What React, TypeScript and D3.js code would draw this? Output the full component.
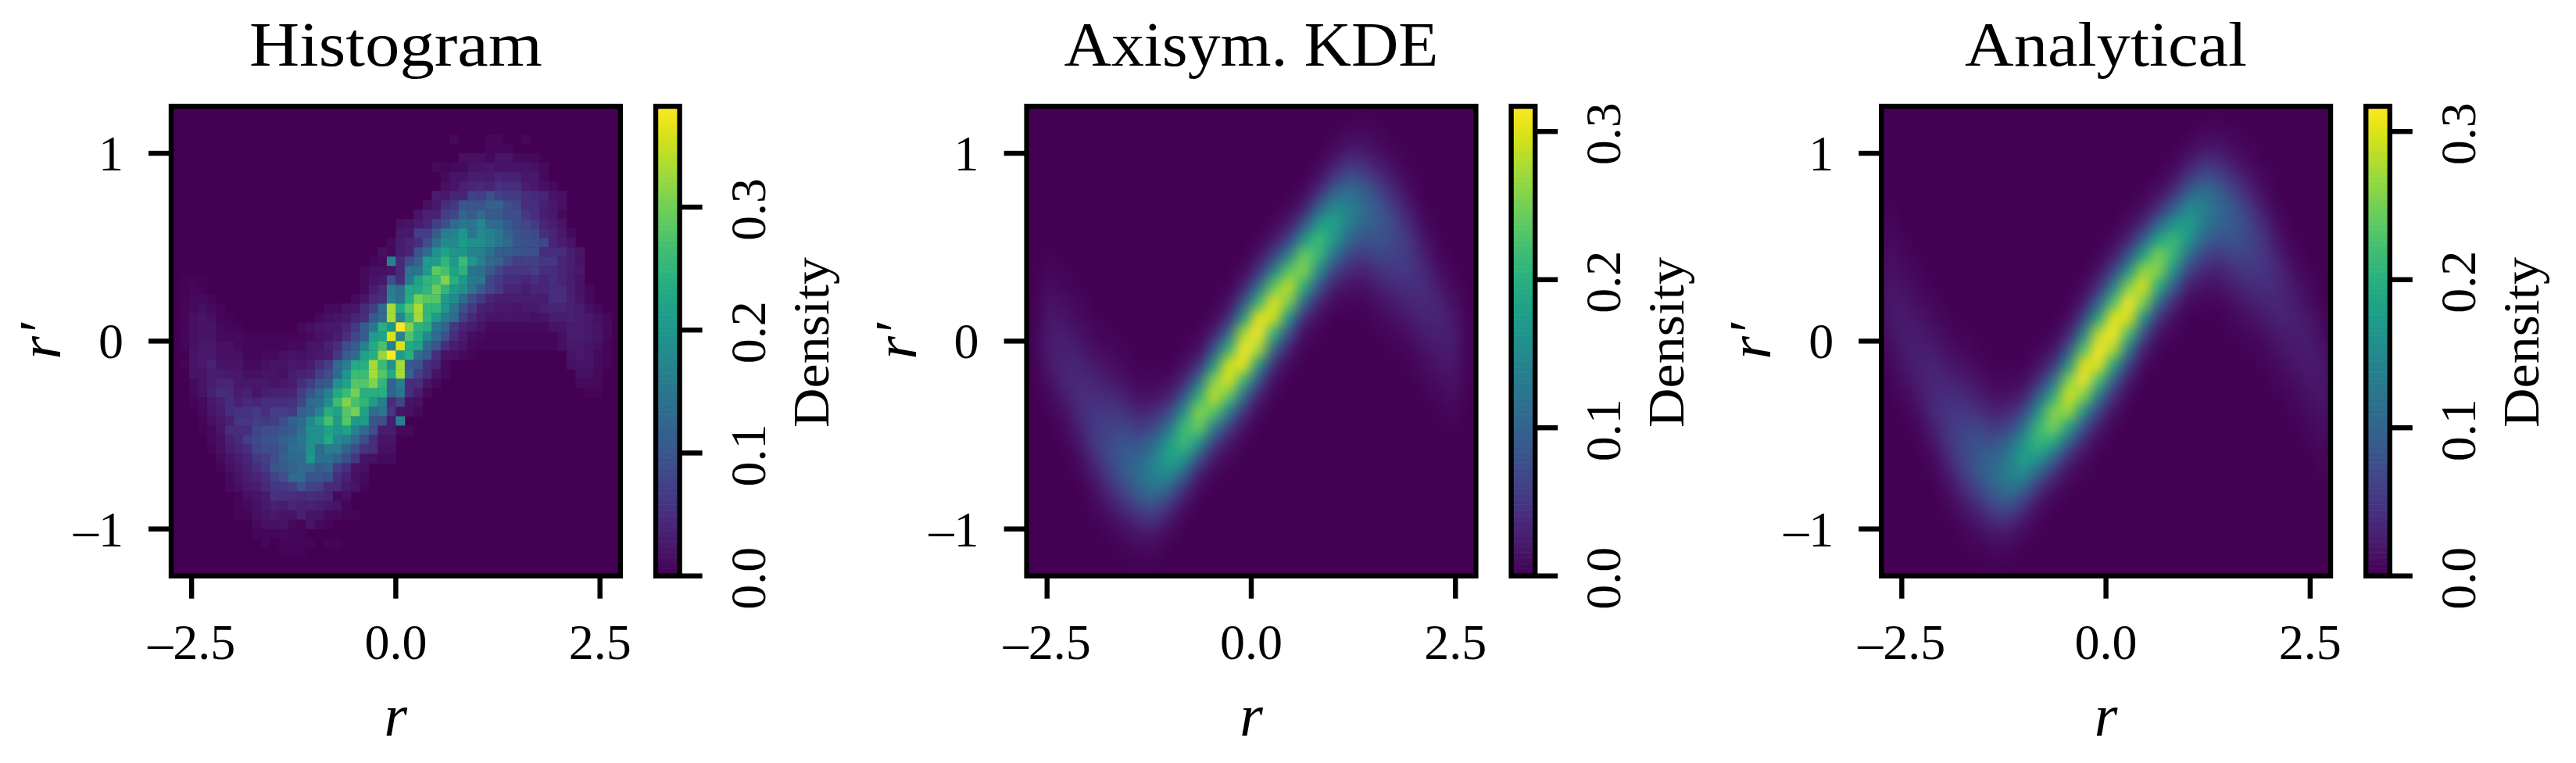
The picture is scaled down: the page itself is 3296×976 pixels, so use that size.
import React from "react";
import * as d3 from "d3";

// axis ticks and limits
const rTicks = [-2.5, 0, 2.5];
const rLabels = ["–2.5", "0.0", "2.5"];
const rPrimeTicks = [-1, 0, 1];
const rPrimeLabels = ["–1", "0", "1"];
const rDomain = [-2.75, 2.75];
const rPrimeDomain = [-1.25, 1.25];
const densityTicks = [0, 0.1, 0.2, 0.3];
const densityLabels = ["0.0", "0.1", "0.2", "0.3"];
const histogramMax = 0.382;
const kdeMax = 0.317;
const analyticalMax = 0.317;

// Histogram: 50x50 bins in units of 0.001
// each entry: row from the top, first column, then the bin values
const histogramBins = [
  [3, 31, 10, 0, 0, 0, 8, 8, 0, 0, 8],
  [4, 35, 8, 8, 8],
  [5, 32, 15, 15, 15, 10, 20, 20, 10, 10, 10],
  [6, 29, 10, 5, 10, 10, 20, 20, 25, 20, 20, 20, 20, 15, 10],
  [7, 30, 10, 20, 20, 30, 30, 30, 40, 35, 35, 25, 25, 10],
  [8, 30, 15, 20, 35, 40, 45, 40, 55, 50, 50, 30, 25, 15, 10],
  [9, 29, 30, 25, 40, 40, 75, 70, 90, 70, 65, 65, 50, 45, 40, 20, 15],
  [10, 28, 15, 25, 50, 60, 100, 100, 100, 120, 120, 90, 80, 50, 50, 35, 25, 15],
  [11, 27, 20, 35, 35, 70, 80, 125, 110, 130, 105, 105, 90, 90, 60, 50, 30, 25, 10],
  [12, 25, 15, 20, 30, 40, 70, 90, 130, 150, 150, 180, 130, 130, 110, 90, 80, 65, 40, 30, 20],
  [13, 25, 25, 25, 70, 70, 110, 160, 170, 200, 150, 180, 170, 150, 120, 100, 90, 85, 50, 40, 25, 10],
  [14, 24, 10, 30, 40, 50, 90, 140, 180, 180, 210, 190, 190, 170, 150, 130, 100, 95, 90, 80, 40, 30, 20],
  [15, 23, 15, 10, 30, 40, 100, 130, 190, 220, 200, 200, 170, 170, 140, 110, 110, 100, 95, 90, 50, 50, 50, 30, 20],
  [16, 22, 5, 10, 170, 45, 90, 120, 210, 210, 250, 210, 260, 200, 165, 130, 120, 90, 70, 70, 70, 60, 60, 40, 30, 20],
  [17, 21, 10, 15, 15, 20, 45, 145, 145, 205, 285, 270, 220, 245, 145, 140, 110, 80, 60, 60, 60, 70, 50, 50, 40, 30, 25],
  [18, 1, 3, 5, 3],
  [18, 21, 10, 20, 25, 90, 50, 155, 220, 250, 260, 310, 240, 200, 155, 150, 80, 65, 50, 50, 40, 50, 40, 50, 40, 30, 20],
  [19, 1, 4, 6, 4],
  [19, 21, 10, 30, 45, 160, 140, 230, 230, 250, 295, 250, 205, 190, 145, 105, 80, 60, 40, 40, 30, 40, 40, 50, 50, 30, 20, 10],
  [20, 1, 5, 10, 10, 5],
  [20, 20, 10, 20, 45, 50, 170, 145, 235, 300, 280, 280, 210, 185, 130, 90, 65, 40, 30, 30, 30, 30, 30, 30, 50, 50, 35, 20, 10],
  [21, 1, 5, 10, 15, 10, 5],
  [21, 17, 10, 10, 20, 20, 45, 70, 130, 330, 230, 280, 335, 250, 250, 200, 145, 95, 65, 35, 30, 25, 25, 20, 25, 25, 35, 40, 40, 35, 30, 15, 10],
  [22, 1, 5, 15, 20, 15, 5, 3],
  [22, 16, 10, 15, 20, 25, 40, 50, 110, 130, 330, 175, 250, 330, 250, 210, 160, 135, 70, 45, 28, 20, 20, 20, 20, 20, 15, 20, 30, 30, 35, 30, 25, 15, 10],
  [23, 1, 5, 15, 20, 20, 10, 5, 3],
  [23, 14, 10, 15, 20, 25, 25, 40, 60, 110, 150, 240, 200, 380, 310, 245, 235, 150, 120, 60, 40, 30, 20, 10, 10, 10, 10, 10, 10, 10, 20, 20, 30, 30, 25, 20, 10],
  [24, 1, 5, 15, 20, 20, 10, 10, 10, 5, 5, 5, 5, 5, 5],
  [24, 14, 5, 10, 15, 20, 30, 50, 80, 110, 210, 220, 360, 170, 275, 235, 180, 130, 95, 50, 28, 12, 10, 5, 5, 5, 5, 5, 5, 5, 5, 15, 30, 30, 25, 20, 10],
  [25, 1, 5, 15, 25, 25, 15, 15, 10, 5, 5, 5, 5, 5, 10, 10, 20, 20, 35, 50, 90, 110, 170, 230, 270, 160, 360, 230, 220, 130, 100, 50, 30, 20, 10, 5, 5, 5, 5, 5, 5, 5, 5, 5, 15, 25, 25, 20, 15, 5],
  [26, 2, 20, 25, 25, 15, 15, 15, 5, 5, 10, 10, 15, 20, 15, 20, 25, 30, 60, 110, 130, 220, 240, 320, 380, 210, 240, 130, 110, 50, 20, 15, 10, 5],
  [26, 44, 20, 25, 20, 10, 5],
  [27, 1, 5, 20, 25, 35, 20, 20, 20, 10, 10, 15, 20, 20, 25, 20, 30, 50, 70, 130, 160, 230, 240, 330, 260, 190, 330, 110, 100, 50, 40, 10],
  [27, 44, 15, 20, 20, 10, 5],
  [28, 2, 20, 20, 30, 30, 25, 25, 15, 15, 20, 20, 15, 30, 35, 40, 70, 90, 130, 200, 260, 260, 330, 280, 230, 330, 120, 70, 50, 20, 10],
  [28, 45, 15, 15, 10],
  [29, 2, 10, 20, 30, 40, 40, 25, 25, 25, 25, 20, 25, 30, 50, 70, 100, 110, 190, 220, 280, 280, 310, 250, 120, 160, 50, 50, 20, 10],
  [29, 45, 10, 10, 10],
  [30, 2, 10, 20, 35, 50, 45, 30, 35, 20, 30, 35, 35, 40, 70, 100, 130, 170, 230, 260, 300, 240, 240, 240, 120, 150, 50, 30, 10],
  [30, 46, 5, 5],
  [31, 2, 5, 10, 25, 35, 50, 35, 45, 40, 50, 50, 50, 55, 80, 130, 140, 190, 260, 310, 270, 250, 210, 160, 50, 80, 20, 15],
  [32, 3, 10, 20, 30, 50, 55, 55, 65, 50, 70, 70, 65, 120, 130, 170, 240, 220, 280, 300, 220, 130, 150, 60, 20, 15, 10],
  [33, 3, 5, 15, 25, 35, 60, 60, 70, 65, 70, 90, 120, 130, 180, 220, 270, 210, 280, 210, 210, 100, 90, 30, 170],
  [34, 3, 5, 10, 20, 50, 50, 50, 80, 90, 90, 100, 110, 140, 190, 190, 220, 200, 220, 170, 130, 90, 30, 30, 10, 10],
  [35, 4, 10, 15, 35, 45, 70, 85, 100, 100, 120, 130, 150, 190, 190, 230, 180, 160, 130, 90, 50, 20, 20],
  [36, 4, 5, 15, 30, 40, 50, 80, 90, 90, 110, 140, 145, 190, 130, 160, 160, 120, 90, 55, 50, 15, 15],
  [37, 5, 10, 20, 30, 40, 60, 70, 90, 120, 130, 130, 200, 140, 140, 120, 90, 60, 20, 15, 10, 10],
  [38, 5, 5, 15, 25, 35, 50, 65, 100, 110, 120, 130, 130, 110, 120, 70, 50, 20, 15],
  [39, 6, 10, 20, 30, 40, 50, 75, 90, 130, 130, 100, 100, 95, 50, 35, 15, 10],
  [40, 6, 10, 15, 25, 30, 45, 60, 65, 70, 100, 75, 70, 45, 45, 25, 20, 5],
  [41, 7, 5, 15, 20, 25, 55, 50, 50, 45, 50, 45, 40, 10, 15],
  [42, 7, 5, 10, 15, 25, 35, 30, 40, 35, 35, 30, 25, 20, 5],
  [43, 7, 5, 5, 15, 20, 25, 20, 20, 35, 20, 20, 10, 10, 5, 5],
  [44, 9, 10, 15, 15, 20, 10, 5, 20, 10, 5],
  [45, 9, 5, 5, 5, 10, 5, 5],
  [46, 10, 5, 0, 5, 5, 5, 5, 0, 5, 5],
  [47, 12, 3, 3, 3],
];

// KDE and analytical panels: 30 columns x 30 rows, units of 0.001,
// one list per r column: first row from the top, then the values down the column
const kdeColumns = [
  [13, 2, 2, 2, 2],
  [9, 3, 6, 10, 15, 19, 23, 24, 20, 13, 7, 3, 1],
  [10, 3, 6, 11, 17, 23, 28, 32, 31, 22, 14, 7, 3, 1],
  [11, 2, 5, 9, 15, 23, 31, 37, 40, 37, 28, 18, 9, 4, 1],
  [13, 3, 6, 12, 21, 31, 42, 50, 54, 50, 38, 24, 12, 5, 2],
  [14, 3, 7, 13, 23, 37, 51, 63, 70, 69, 55, 36, 19, 9, 3, 1],
  [15, 3, 7, 14, 27, 45, 65, 82, 90, 87, 66, 41, 21, 8, 3],
  [16, 2, 5, 14, 30, 54, 82, 104, 112, 98, 68, 37, 16, 6, 2],
  [16, 2, 6, 15, 36, 67, 106, 135, 142, 119, 78, 40, 16, 5, 1],
  [16, 2, 9, 28, 67, 122, 172, 186, 154, 100, 49, 19, 6],
  [15, 3, 10, 34, 83, 154, 213, 220, 171, 99, 43, 14, 3],
  [14, 3, 12, 43, 111, 200, 261, 245, 164, 80, 27, 7],
  [13, 7, 28, 79, 165, 255, 290, 235, 137, 62, 20, 5],
  [11, 3, 13, 42, 108, 205, 295, 305, 236, 137, 60, 20, 5],
  [10, 8, 29, 79, 170, 275, 335, 308, 210, 112, 46, 15, 3],
  [8, 3, 15, 46, 112, 210, 308, 335, 275, 170, 79, 29, 8],
  [7, 5, 20, 60, 137, 236, 305, 295, 205, 108, 42, 13, 3],
  [6, 5, 20, 62, 137, 235, 290, 255, 165, 79, 28, 7],
  [5, 7, 27, 80, 164, 245, 261, 200, 111, 43, 12, 3],
  [3, 3, 14, 43, 99, 171, 220, 213, 154, 83, 34, 10, 3],
  [2, 6, 19, 49, 100, 154, 186, 172, 122, 67, 28, 9, 2],
  [0, 1, 5, 16, 40, 78, 119, 142, 135, 106, 67, 36, 15, 6, 2],
  [0, 2, 6, 16, 37, 68, 98, 112, 104, 82, 54, 30, 14, 5, 2],
  [1, 3, 8, 21, 41, 66, 87, 90, 82, 65, 45, 27, 14, 7, 3],
  [1, 1, 3, 9, 19, 36, 55, 69, 70, 63, 51, 37, 23, 13, 7, 3],
  [3, 2, 5, 12, 24, 38, 50, 54, 50, 42, 31, 21, 12, 6, 3],
  [5, 1, 4, 9, 18, 28, 37, 40, 37, 31, 23, 15, 9, 5, 2],
  [7, 1, 3, 7, 14, 22, 31, 32, 28, 23, 17, 11, 6, 3],
  [9, 1, 3, 7, 13, 20, 24, 23, 19, 15, 10, 6, 3],
  [14, 2, 2, 2, 2],
];

const analyticalColumns = [
  [5, 1, 3, 5, 8, 12, 16, 19, 20, 19, 15, 9, 5, 2],
  [7, 1, 3, 5, 9, 13, 18, 22, 24, 23, 18, 12, 7, 3, 1],
  [9, 2, 4, 7, 11, 17, 22, 26, 28, 26, 20, 13, 7, 3, 1],
  [11, 2, 5, 9, 15, 22, 30, 35, 38, 35, 27, 17, 9, 4, 1],
  [13, 3, 6, 12, 20, 30, 40, 48, 52, 48, 37, 23, 12, 5, 2],
  [14, 3, 7, 13, 23, 36, 50, 62, 69, 68, 55, 36, 19, 9, 3, 1],
  [15, 3, 7, 14, 27, 44, 64, 81, 89, 86, 66, 41, 21, 8, 3],
  [16, 2, 5, 14, 29, 53, 80, 102, 110, 96, 67, 37, 16, 6, 2],
  [16, 2, 6, 15, 35, 66, 104, 132, 139, 117, 77, 40, 16, 5, 1],
  [16, 2, 9, 28, 66, 118, 166, 180, 150, 98, 49, 19, 6],
  [15, 4, 14, 42, 95, 163, 213, 213, 163, 95, 42, 14, 4],
  [14, 4, 16, 49, 114, 197, 258, 253, 186, 102, 42, 13, 3],
  [13, 9, 30, 81, 163, 255, 300, 268, 181, 94, 37, 11, 3],
  [11, 7, 23, 62, 133, 225, 302, 315, 255, 161, 81, 32, 10, 3],
  [9, 3, 15, 43, 98, 185, 280, 335, 305, 222, 133, 63, 24, 7],
  [8, 7, 24, 63, 133, 222, 305, 335, 280, 185, 98, 43, 15, 3],
  [6, 3, 10, 32, 81, 161, 255, 315, 302, 225, 133, 62, 23, 7],
  [5, 3, 11, 37, 94, 181, 268, 300, 255, 163, 81, 30, 9],
  [4, 3, 13, 42, 102, 186, 253, 258, 197, 114, 49, 16, 4],
  [3, 4, 14, 42, 95, 163, 213, 213, 163, 95, 42, 14, 4],
  [2, 6, 19, 49, 98, 150, 180, 166, 118, 66, 28, 9, 2],
  [0, 1, 5, 16, 40, 77, 117, 139, 132, 104, 66, 35, 15, 6, 2],
  [0, 2, 6, 16, 37, 67, 96, 110, 102, 80, 53, 29, 14, 5, 2],
  [1, 3, 8, 21, 41, 66, 86, 89, 81, 64, 44, 27, 14, 7, 3],
  [1, 1, 3, 9, 19, 36, 55, 68, 69, 62, 50, 36, 23, 13, 7, 3],
  [3, 2, 5, 12, 23, 37, 48, 52, 48, 40, 30, 20, 12, 6, 3],
  [5, 1, 4, 9, 17, 27, 35, 38, 35, 30, 22, 15, 9, 5, 2],
  [7, 1, 3, 7, 13, 20, 26, 28, 26, 22, 17, 11, 7, 4, 2],
  [9, 1, 3, 7, 12, 18, 23, 24, 22, 18, 13, 9, 5, 3, 1],
  [12, 2, 5, 9, 15, 19, 20, 19, 16, 12, 8, 5, 3, 1],
];

const W = 3296;
const H = 976;
const plotTop = 136;
const plotBottom = 736.7;
const plotWidth = 574.8;
const cbarGap = 45.2;
const cbarWidth = 30.6;
const spine = 6.4;
const tickLen = 29;
const font = "'Liberation Serif', serif";

type Cell = { row: number; col: number; value: number };

const histogramCells: Cell[] = histogramBins.flatMap(([row, start, ...vals]) =>
  vals.map((v, i) => ({ row, col: start + i, value: v / 1000 }))
);
const columnCells = (cols: number[][]): Cell[] =>
  cols.flatMap(([start, ...vals], col) =>
    vals.map((v, i) => ({ row: start + i, col, value: v / 1000 }))
  );

const panels = [
  { title: "Histogram", titleLen: 375, left: 219, vmax: histogramMax, cells: histogramCells, n: 50, smooth: false },
  { title: "Axisym. KDE", titleLen: 479, left: 1313.6, vmax: kdeMax, cells: columnCells(kdeColumns), n: 30, smooth: true },
  { title: "Analytical", titleLen: 361, left: 2407.2, vmax: analyticalMax, cells: columnCells(analyticalColumns), n: 30, smooth: true },
];

const Panel = ({ p, i }: { p: (typeof panels)[number]; i: number }) => {
  const right = p.left + plotWidth;
  const x = d3.scaleLinear().domain(rDomain).range([p.left, right]);
  const y = d3.scaleLinear().domain(rPrimeDomain).range([plotBottom, plotTop]);
  const color = d3.scaleSequential(d3.interpolateViridis).domain([0, p.vmax]);
  const colX = d3.scaleLinear().domain([0, p.n]).range([p.left, right]);
  const rowY = d3.scaleLinear().domain([0, p.n]).range([plotTop, plotBottom]);
  const cbLeft = right + cbarGap;
  const cbRight = cbLeft + cbarWidth;
  const cbY = d3.scaleLinear().domain([0, p.vmax]).range([plotBottom, plotTop]);
  const cbSteps = d3.range(0, 256).map((k) => (k / 256) * p.vmax);
  const midX = (p.left + right) / 2;
  const midY = (plotTop + plotBottom) / 2;

  return (
    <g>
      <clipPath id={`plot-${i}`}>
        <rect x={p.left} y={plotTop} width={plotWidth} height={plotBottom - plotTop} />
      </clipPath>
      <g clipPath={`url(#plot-${i})`}>
        <g filter={p.smooth ? "url(#smooth)" : undefined}>
          <rect x={p.left - 40} y={plotTop - 40} width={plotWidth + 80} height={plotBottom - plotTop + 80} fill={color(0)} />
          {p.cells.map((c, k) => (
            <rect
              key={k}
              x={colX(c.col)}
              y={rowY(c.row)}
              width={colX(1) - colX(0) + 0.4}
              height={rowY(1) - rowY(0) + 0.4}
              fill={color(c.value)}
            />
          ))}
        </g>
      </g>
      <rect x={p.left} y={plotTop} width={plotWidth} height={plotBottom - plotTop} fill="none" stroke="#000" strokeWidth={spine} />

      {rTicks.map((t, k) => (
        <g key={t}>
          <line x1={x(t)} x2={x(t)} y1={plotBottom} y2={plotBottom + tickLen} stroke="#000" strokeWidth={spine} />
          <text x={x(t)} y={843} textAnchor="middle" fontSize={64} fontFamily={font}>
            {rLabels[k]}
          </text>
        </g>
      ))}
      {rPrimeTicks.map((t, k) => (
        <g key={t}>
          <line x1={p.left} x2={p.left - tickLen} y1={y(t)} y2={y(t)} stroke="#000" strokeWidth={spine} />
          <text x={p.left - 61} y={y(t) + 22} textAnchor="end" fontSize={64} fontFamily={font}>
            {rPrimeLabels[k]}
          </text>
        </g>
      ))}

      <text x={midX} y={84} textAnchor="middle" fontSize={80} fontFamily={font} textLength={p.titleLen} lengthAdjust="spacingAndGlyphs">
        {p.title}
      </text>
      <text x={midX} y={941} textAnchor="middle" fontSize={76} fontStyle="italic" fontFamily={font}>
        r
      </text>
      <text transform={`translate(${p.left - 142},${midY}) rotate(-90)`} textAnchor="middle" fontSize={76} fontStyle="italic" fontFamily={font}>
        r′
      </text>

      {cbSteps.map((v) => (
        <rect key={v} x={cbLeft} y={cbY(v + p.vmax / 256)} width={cbarWidth} height={(plotBottom - plotTop) / 256 + 0.6} fill={color(v)} />
      ))}
      <rect x={cbLeft} y={plotTop} width={cbarWidth} height={plotBottom - plotTop} fill="none" stroke="#000" strokeWidth={spine} />
      {densityTicks.map((t, k) => (
        <g key={t}>
          <line x1={cbRight} x2={cbRight + tickLen} y1={cbY(t)} y2={cbY(t)} stroke="#000" strokeWidth={spine} />
          <text transform={`translate(${cbRight + 109},${cbY(t) + 3}) rotate(-90)`} textAnchor="middle" fontSize={64} fontFamily={font}>
            {densityLabels[k]}
          </text>
        </g>
      ))}
      <text transform={`translate(${cbRight + 190},438) rotate(-90)`} textAnchor="middle" fontSize={66} fontFamily={font} textLength={218} lengthAdjust="spacingAndGlyphs">
        Density
      </text>
    </g>
  );
};

export default function App() {
  return (
    <svg width={W} height={H} viewBox={`0 0 ${W} ${H}`} style={{ position: "absolute", left: 0, top: 0, background: "#fff" }}>
      <defs>
        <filter id="smooth" filterUnits="userSpaceOnUse" x={0} y={0} width={W} height={H} colorInterpolationFilters="sRGB">
          <feGaussianBlur stdDeviation={8} />
        </filter>
      </defs>
      {panels.map((p, i) => (
        <Panel key={p.title} p={p} i={i} />
      ))}
    </svg>
  );
}
